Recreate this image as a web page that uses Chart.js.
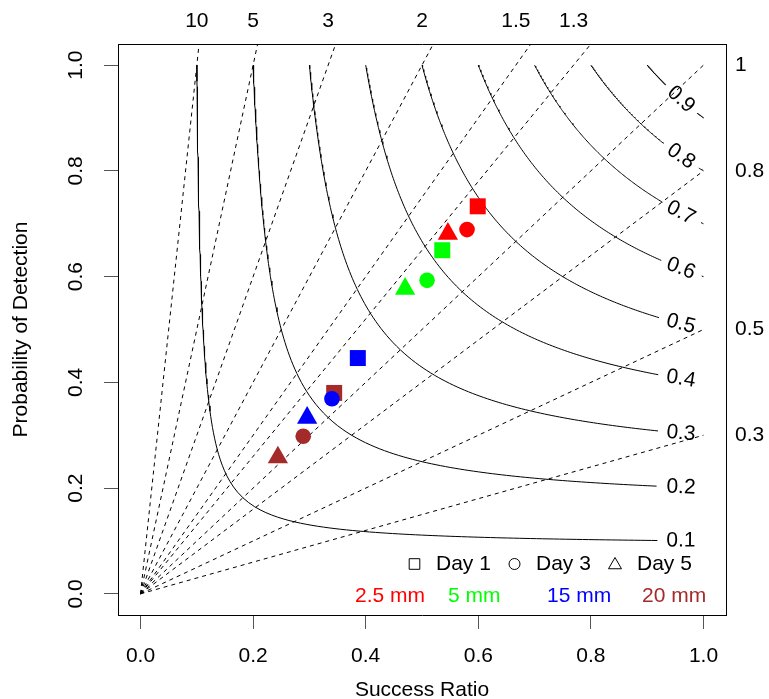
<!DOCTYPE html>
<html>
<head>
<meta charset="utf-8">
<script src="https://cdn.jsdelivr.net/npm/chart.js@4.4.1/dist/chart.umd.min.js"></script>
<style>
    html, body { margin: 0; padding: 0; background: #fff; }
    #wrap { width: 769px; height: 699px; }
</style>
</head>
<body>
<div id="wrap"><canvas id="perfChart" width="769" height="699"></canvas></div>
<script>
const FONT = "'Liberation Sans', Arial, Helvetica, sans-serif";

const thresholds = ["2.5 mm", "5 mm", "15 mm", "20 mm"];
const thresholdColors = ["#ff0000", "#00ff00", "#0000ff", "#a52a2a"];

const days = ["Day 1", "Day 3", "Day 5"];
const dayShapes = ["rect", "circle", "triangle"];

// success ratio / POD, one value per threshold (2.5, 5, 15, 20 mm)
const day1SR = [0.599, 0.536, 0.386, 0.344];
const day1POD = [0.733, 0.650, 0.446, 0.380];
const day3SR = [0.580, 0.509, 0.340, 0.289];
const day3POD = [0.689, 0.593, 0.369, 0.298];
const day5SR = [0.546, 0.470, 0.296, 0.244];
const day5POD = [0.681, 0.577, 0.333, 0.258];

const csiLevels = [0.1, 0.2, 0.3, 0.4, 0.5, 0.6, 0.7, 0.8, 0.9];
const biasValues = [0.3, 0.5, 0.8, 1, 1.3, 1.5, 2, 3, 5, 10];
const axisTicks = [0, 0.2, 0.4, 0.6, 0.8, 1];

const topBias = biasValues.filter((b) => b > 1);
const rightBias = biasValues.filter((b) => b <= 1);

const CSI_LABEL_SR = 0.96;
const CSI_LABEL_GAP = 0.038;

// POD on a CSI isoline for a given success ratio (symmetric in SR/POD)
function podOnCsi(sr, csi) {
    return 1 / (1 / csi + 1 - 1 / sr);
}

function csiCurve(csi) {
    const mid = (2 * csi) / (1 + csi);
    const n = 80;
    const pts = [];
    for (let i = 0; i <= n; i++) {
        const pod = 1 - ((1 - mid) * i) / n;
        pts.push({ x: podOnCsi(pod, csi), y: pod });
    }
    for (let i = 1; i <= n; i++) {
        const sr = mid + ((1 - mid) * i) / n;
        pts.push({ x: sr, y: podOnCsi(sr, csi) });
    }
    // leave room for the label
    const lx = CSI_LABEL_SR;
    const ly = podOnCsi(lx, csi);
    return pts.map((p) =>
        Math.hypot(p.x - lx, p.y - ly) < CSI_LABEL_GAP ? { x: p.x, y: null } : p
    );
}

function markerSet(label, sr, pod, shape, radius, order) {
    return {
        label: label,
        data: sr.map((x, i) => ({ x: x, y: pod[i] })),
        showLine: false,
        pointStyle: shape,
        pointRadius: radius,
        pointHoverRadius: radius,
        pointBackgroundColor: thresholdColors,
        pointBorderColor: thresholdColors,
        pointBorderWidth: 0,
        order: order,
    };
}

const datasets = [];

biasValues.forEach((b) => {
    datasets.push({
        label: "bias " + b,
        data: [{ x: 0, y: 0 }, { x: 1, y: b }],
        showLine: true,
        borderColor: "#000",
        borderWidth: 1,
        borderDash: [4, 4],
        pointRadius: 0,
        order: 10,
    });
});

csiLevels.forEach((c) => {
    datasets.push({
        label: "csi " + c,
        data: csiCurve(c),
        showLine: true,
        spanGaps: false,
        borderColor: "#000",
        borderWidth: 1,
        pointRadius: 0,
        tension: 0,
        order: 9,
    });
});

datasets.push(markerSet(days[0], day1SR, day1POD, dayShapes[0], 11.3, 3));
datasets.push(markerSet(days[1], day3SR, day3POD, dayShapes[1], 7.8, 2));
datasets.push(markerSet(days[2], day5SR, day5POD, dayShapes[2], 11.7, 1));

const csiLabelPlugin = {
    id: "csiLabels",
    afterDatasetsDraw(chart) {
        const { ctx, scales } = chart;
        const xs = scales.x;
        const ys = scales.y;
        ctx.save();
        ctx.font = "21px " + FONT;
        ctx.fillStyle = "#000";
        ctx.textAlign = "center";
        ctx.textBaseline = "middle";
        csiLevels.forEach((c) => {
            const s0 = CSI_LABEL_SR - 0.01;
            const s1 = CSI_LABEL_SR + 0.01;
            const px = xs.getPixelForValue(CSI_LABEL_SR);
            const py = ys.getPixelForValue(podOnCsi(CSI_LABEL_SR, c));
            const ang = Math.atan2(
                ys.getPixelForValue(podOnCsi(s1, c)) - ys.getPixelForValue(podOnCsi(s0, c)),
                xs.getPixelForValue(s1) - xs.getPixelForValue(s0)
            );
            ctx.save();
            ctx.translate(px, py);
            ctx.rotate(ang);
            ctx.fillText(String(c), 0, 0);
            ctx.restore();
        });
        ctx.restore();
    },
};

const legendPlugin = {
    id: "dayLegend",
    afterDraw(chart) {
        const ctx = chart.ctx;
        ctx.save();
        ctx.font = "21px " + FONT;
        ctx.textBaseline = "middle";
        ctx.textAlign = "left";
        ctx.strokeStyle = "#000";
        ctx.lineWidth = 1;

        const symX = [414.5, 514.5, 615];
        const textX = [436, 536, 637];
        const symR = [7.5, 5.5, 7.5];
        const rowY = 564;
        days.forEach((d, i) => {
            ctx.fillStyle = "rgba(0,0,0,0)";
            Chart.helpers.drawPoint(
                ctx,
                { pointStyle: dayShapes[i], radius: symR[i], borderWidth: 1, rotation: 0 },
                symX[i],
                i === 2 ? rowY + 1 : rowY
            );
            ctx.fillStyle = "#000";
            ctx.fillText(d, textX[i], rowY);
        });

        const mmX = [355, 448, 547, 642];
        thresholds.forEach((t, i) => {
            ctx.fillStyle = thresholdColors[i];
            ctx.fillText(t, mmX[i], 596);
        });
        ctx.restore();
    },
};

function fixedTicks(values) {
    return (scale) => {
        scale.ticks = values.map((v) => ({ value: v }));
    };
}

const tickFont = { family: FONT, size: 21 };
const titleFont = { family: FONT, size: 21, lineHeight: 1 };

Chart.defaults.font.family = FONT;
Chart.defaults.color = "#000";

new Chart(document.getElementById("perfChart"), {
    type: "scatter",
    data: { datasets: datasets },
    options: {
        responsive: false,
        animation: false,
        events: [],
        layout: { padding: 0 },
        plugins: {
            legend: { display: false },
            tooltip: { enabled: false },
        },
        scales: {
            x: {
                type: "linear",
                position: "bottom",
                min: -0.04,
                max: 1.04,
                afterBuildTicks: fixedTicks(axisTicks),
                afterFit: (s) => { s.height = 84; },
                ticks: {
                    callback: (v) => v.toFixed(1),
                    font: tickFont,
                    color: "#000",
                    padding: 15,
                    maxRotation: 0,
                    autoSkip: false,
                },
                grid: { drawOnChartArea: false, drawTicks: true, tickLength: 14, tickColor: "#555", lineWidth: 1 },
                border: { display: true, color: "#000", width: 1 },
                title: {
                    display: true,
                    text: "Success Ratio",
                    font: titleFont,
                    color: "#000",
                    padding: { top: 0, bottom: -2 },
                },
            },
            y: {
                type: "linear",
                position: "left",
                min: -0.04,
                max: 1.04,
                afterBuildTicks: fixedTicks(axisTicks),
                afterFit: (s) => { s.width = 118; },
                ticks: {
                    callback: (v) => v.toFixed(1),
                    font: tickFont,
                    color: "#000",
                    padding: 13,
                    minRotation: 90,
                    maxRotation: 90,
                    crossAlign: "center",
                    autoSkip: false,
                },
                grid: { drawOnChartArea: false, drawTicks: true, tickLength: 14, tickColor: "#555", lineWidth: 1 },
                border: { display: true, color: "#000", width: 1 },
                title: {
                    display: true,
                    text: "Probability of Detection",
                    font: titleFont,
                    color: "#000",
                    padding: { top: 11, bottom: 0 },
                },
            },
            xTop: {
                type: "linear",
                position: "top",
                min: -0.04,
                max: 1.04,
                afterBuildTicks: fixedTicks(topBias.map((b) => 1 / b)),
                afterFit: (s) => { s.height = 44; },
                ticks: {
                    callback: (v, i) => String(topBias[i]),
                    font: tickFont,
                    color: "#000",
                    padding: 10,
                    maxRotation: 0,
                    autoSkip: false,
                },
                grid: { display: false, drawTicks: false },
                border: { display: true, color: "#000", width: 1 },
            },
            yRight: {
                type: "linear",
                position: "right",
                min: -0.04,
                max: 1.04,
                afterBuildTicks: fixedTicks(rightBias),
                afterFit: (s) => { s.width = 43; },
                ticks: {
                    callback: (v, i) => String(rightBias[i]),
                    font: tickFont,
                    color: "#000",
                    padding: 9,
                    crossAlign: "near",
                    autoSkip: false,
                },
                grid: { display: false, drawTicks: false },
                border: { display: true, color: "#000", width: 1 },
            },
        },
    },
    plugins: [csiLabelPlugin, legendPlugin],
});
</script>
</body>
</html>
